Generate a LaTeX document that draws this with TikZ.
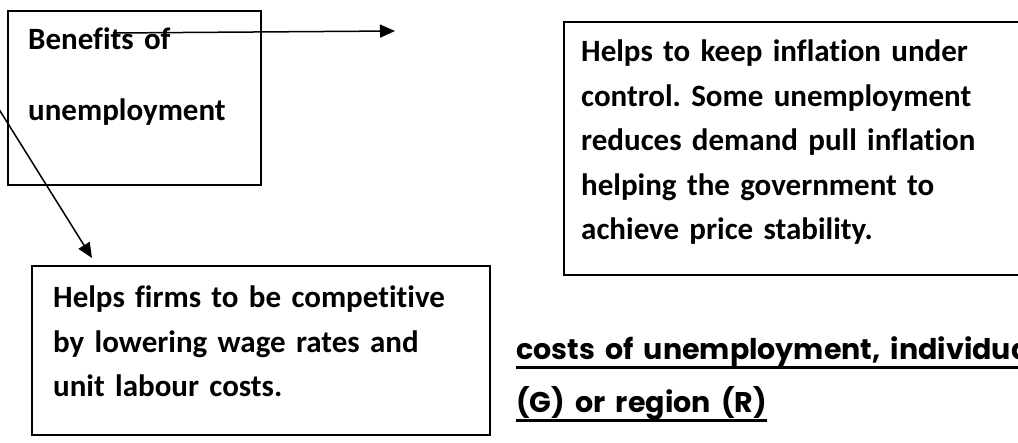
\documentclass[tikz,border=0pt]{standalone}
\usepackage{fontspec}
\setmainfont{Carlito}[Ligatures=CommonOff]
\newfontfamily\comicfont{Poppins}[WordSpace=1.7]
\usetikzlibrary{arrows.meta,positioning}
\frenchspacing

\tikzset{
  box/.style={draw,line width=1.8pt,anchor=north west,inner sep=0pt},
  boxtext/.style={anchor=base west,inner sep=0pt,align=left,text width=440pt,
    font=\fontsize{31}{44.5}\selectfont\bfseries},
  headtext/.style={anchor=base west,inner sep=0pt,
    font=\fontsize{28.5}{34}\selectfont\comicfont\bfseries},
  underline/.style={line width=2.6pt},
  link/.style={line width=1.5pt,-{Triangle[length=15pt,width=13pt]}},
}

\begin{document}
\begin{tikzpicture}[x=1pt,y=-1pt]
 \useasboundingbox (0,0) rectangle (1018,443);
 \clip (0,0) rectangle (1018,443);
 % Boxes.
 \node[box,line width=2.4pt,minimum width=253pt,minimum height=174pt] (benefits) at (7,10) {};
 \node[box,minimum width=455pt,minimum height=253pt] (inflation) at (563,21) {};
 \node[box,minimum width=458pt,minimum height=169pt] (firms) at (31,265) {};
 % Box texts.
 \node[boxtext,text width=225pt,font=\fontsize{31}{71}\selectfont\bfseries] (benefitstext) at (28,50)
  {Benefits of\\unemployment};
 \node[boxtext] (inflationtext) at (581,62)
  {Helps to keep inflation under\\control. Some unemployment\\reduces demand pull inflation\\helping the government to\\achieve price stability.};
 \node[boxtext] (firmstext) at (53,308)
  {Helps firms to be competitive\\by lowering wage rates and\\unit labour costs.};
 % Heading under the right box.
 \node[headtext] (costsone) at (516,360) {costs of unemployment, individua};
 \node[headtext] (coststwo) at (516,413) {(G) or region (R)};
 \draw[underline] ([yshift=-7.5pt]costsone.base west) -- ([yshift=-7.5pt]costsone.base east);
 \draw[underline] ([yshift=-7.5pt]coststwo.base west) -- ([yshift=-7.5pt]coststwo.base east);
 % Arrows.
 \coordinate (hstart) at (113,33);
 \coordinate (hend) at (395,31);
 \draw[link] (hstart) -- (hend);
 \coordinate (dstart) at (-3,106);
 \coordinate (dend) at (92,258);
 \draw[link] (dstart) -- (dend);
\end{tikzpicture}
\end{document}
